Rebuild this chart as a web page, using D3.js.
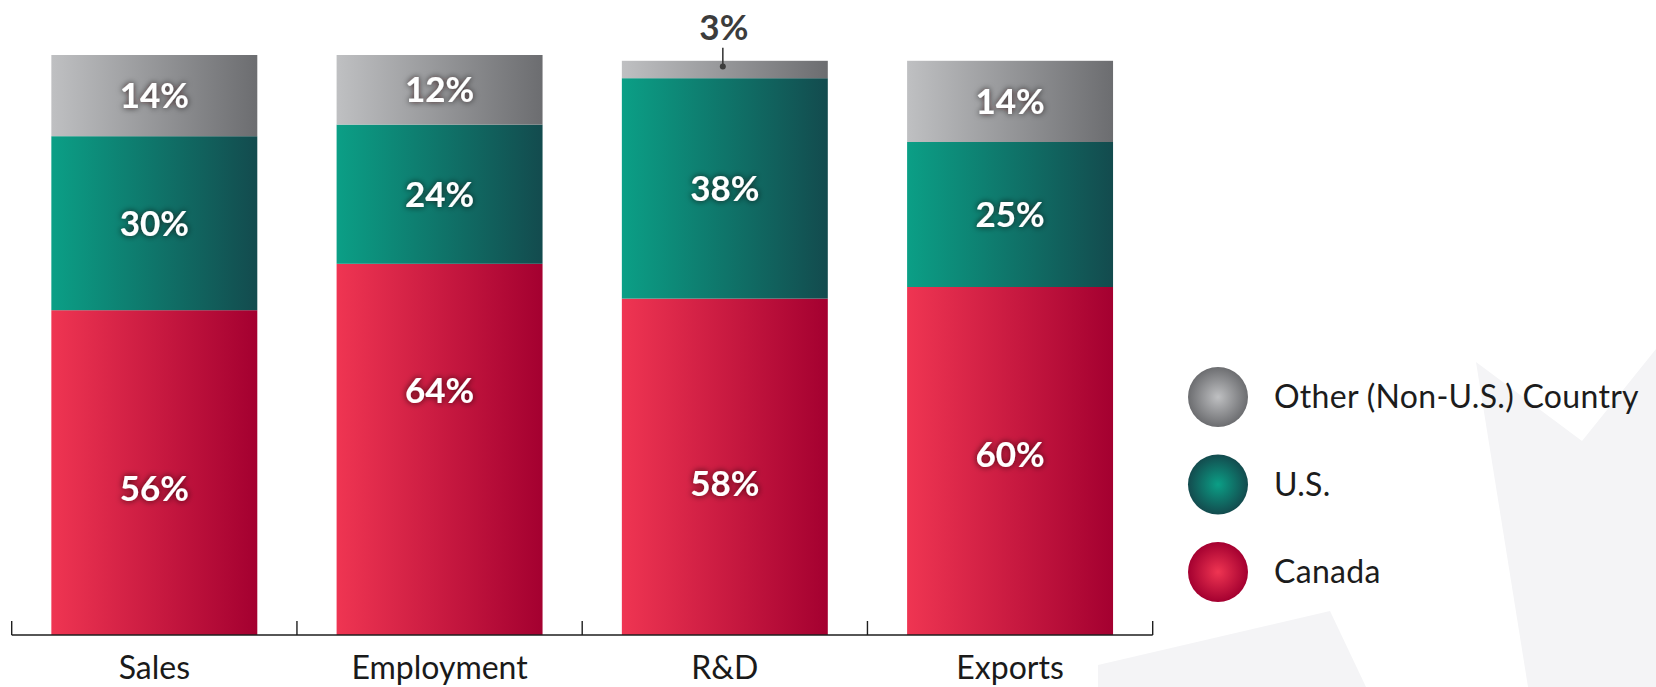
<!DOCTYPE html>
<html>
<head>
<meta charset="utf-8">
<script src="https://cdn.jsdelivr.net/npm/d3@7"></script>
<style>
  html, body { margin: 0; padding: 0; background: #ffffff; }
  svg { display: block; }
  text { font-family: Lato, "Open Sans", sans-serif; }
</style>
</head>
<body>
<svg id="chart" width="1656" height="687"></svg>
<script>
// Share of activity by location (percent)
const categories = ["Sales", "Employment", "R&D", "Exports"];
const canadaValues = [56, 64, 58, 60];
const usValues = [30, 24, 38, 25];
const otherValues = [14, 12, 3, 14];
const seriesKeys = ["canada", "us", "other"];
const seriesNames = ["Canada", "U.S.", "Other (Non-U.S.) Country"];

const rows = categories.map((c, i) => ({
  category: c,
  canada: canadaValues[i],
  us: usValues[i],
  other: otherValues[i]
}));

// Where each Canada label sits inside its segment (share of the segment height)
const canadaLabelAt = [0.45, 0.66, 0.45, 0.52];

const W = 1656, H = 687;
const svg = d3.select("#chart");
const defs = svg.append("defs");

// Segment colours: left-to-right shading for bars, centre glow for legend dots
const palette = {
  canada: { light: "#ef3552", dark: "#a40030" },
  us:     { light: "#0b9f86", dark: "#134b4e" },
  other:  { light: "#bfc0c2", dark: "#6c6d70" }
};

seriesKeys.forEach(k => {
  const lg = defs.append("linearGradient").attr("id", "bar-" + k)
    .attr("x1", "0%").attr("x2", "100%").attr("y1", "0%").attr("y2", "0%");
  lg.append("stop").attr("offset", "0%").attr("stop-color", palette[k].light);
  lg.append("stop").attr("offset", "100%").attr("stop-color", palette[k].dark);

  const rg = defs.append("radialGradient").attr("id", "dot-" + k)
    .attr("cx", "50%").attr("cy", "50%").attr("r", "50%");
  rg.append("stop").attr("offset", "0%").attr("stop-color", palette[k].light);
  rg.append("stop").attr("offset", "100%").attr("stop-color", palette[k].dark);
});

// Soft dark halo behind the white value labels
const halo = defs.append("filter").attr("id", "halo")
  .attr("x", "-40%").attr("y", "-60%").attr("width", "180%").attr("height", "220%");
halo.append("feGaussianBlur").attr("in", "SourceAlpha").attr("stdDeviation", 3.4).attr("result", "blur");
halo.append("feFlood").attr("flood-color", "#1a0008").attr("flood-opacity", 0.8).attr("result", "col");
halo.append("feComposite").attr("in", "col").attr("in2", "blur").attr("operator", "in").attr("result", "shadow");
const merge = halo.append("feMerge");
merge.append("feMergeNode").attr("in", "shadow");
merge.append("feMergeNode").attr("in", "SourceGraphic");

// Faint maple-leaf watermark in the lower right
const leaf = svg.append("g").attr("fill", "#f4f4f6");
leaf.append("path").attr("d", "M1476,362 L1582,441 L1656,349 L1656,687 L1528,687 Z");
leaf.append("path").attr("d", "M1098,665 L1330,611 L1366,687 L1098,687 Z");

// Scales
const x = d3.scaleBand().domain(categories).range([11.7, 1152.7])
  .paddingInner(0.278).paddingOuter(0.139);
const y = d3.scaleLinear().domain([0, 100]).range([635, 55]);

const stacked = d3.stack().keys(seriesKeys)(rows);

// Bars
const layers = svg.append("g").selectAll("g.layer")
  .data(stacked).join("g")
  .attr("class", "layer")
  .attr("fill", d => "url(#bar-" + d.key + ")");

layers.selectAll("rect")
  .data(d => d)
  .join("rect")
  .attr("x", d => x(d.data.category))
  .attr("width", x.bandwidth())
  .attr("y", d => y(d[1]))
  .attr("height", d => y(d[0]) - y(d[1]));

// Value labels
const labels = svg.append("g");
stacked.forEach(layer => {
  layer.forEach((d, i) => {
    const v = d[1] - d[0];
    const cx = x(d.data.category) + x.bandwidth() / 2;
    if (v < 5) {
      // Small segment: label above the bar with a leader line
      const top = y(d[1]);
      const mid = y((d[0] + d[1]) / 2);
      labels.append("line")
        .attr("x1", cx - 2).attr("x2", cx - 2)
        .attr("y1", top - 13).attr("y2", mid - 3)
        .attr("stroke", "#3c3c3c").attr("stroke-width", 1.6);
      labels.append("circle")
        .attr("cx", cx - 2).attr("cy", mid - 3).attr("r", 3)
        .attr("fill", "#3c3c3c");
      labels.append("text")
        .attr("x", cx - 1).attr("y", top - 21)
        .attr("text-anchor", "middle")
        .attr("font-size", 35).attr("font-weight", 700)
        .attr("fill", "#3c3c3c")
        .text(v + "%");
    } else {
      const at = layer.key === "canada"
        ? d[0] + v * canadaLabelAt[i]
        : (d[0] + d[1]) / 2;
      labels.append("text")
        .attr("x", cx).attr("y", y(at))
        .attr("dy", "0.36em")
        .attr("text-anchor", "middle")
        .attr("font-size", 35).attr("font-weight", 700)
        .attr("fill", "#ffffff")
        .attr("filter", "url(#halo)")
        .text(v + "%");
    }
  });
});

// Category axis: baseline with separators between categories
const axisG = svg.append("g").attr("transform", "translate(0," + y(0) + ")");
axisG.call(d3.axisBottom(x).tickSize(0).tickPadding(34))
  .call(g => g.select(".domain").attr("stroke", "#1e1e1e").attr("stroke-width", 1.4)
    .attr("d", "M" + x.range()[0] + ",0H" + x.range()[1]))
  .call(g => g.selectAll(".tick text")
    .attr("font-size", 32).attr("font-family", "Lato, sans-serif")
    .attr("fill", "#1a1a1a").attr("dy", "0.3em"));

const step = x.step();
const bounds = categories.map(c => x(c) - step * x.paddingInner() / 2).concat([x.range()[1]]);
axisG.selectAll("line.sep").data(bounds).join("line")
  .attr("class", "sep")
  .attr("x1", d => d).attr("x2", d => d)
  .attr("y1", 0).attr("y2", -14)
  .attr("stroke", "#1e1e1e").attr("stroke-width", 1.4);

// Legend (top entry = top of the stack)
const legendOrder = [2, 1, 0];
const legendY = d3.scalePoint().domain(legendOrder).range([397, 572]);
const legend = svg.append("g").selectAll("g.item")
  .data(legendOrder).join("g")
  .attr("class", "item")
  .attr("transform", i => "translate(1218," + legendY(i) + ")");

legend.append("circle").attr("r", 30)
  .attr("fill", i => "url(#dot-" + seriesKeys[i] + ")");
legend.append("text")
  .attr("x", 56).attr("y", 11)
  .attr("font-size", 32).attr("fill", "#1c1c1c")
  .attr("letter-spacing", 0.3)
  .text(i => seriesNames[i]);
</script>
</body>
</html>
